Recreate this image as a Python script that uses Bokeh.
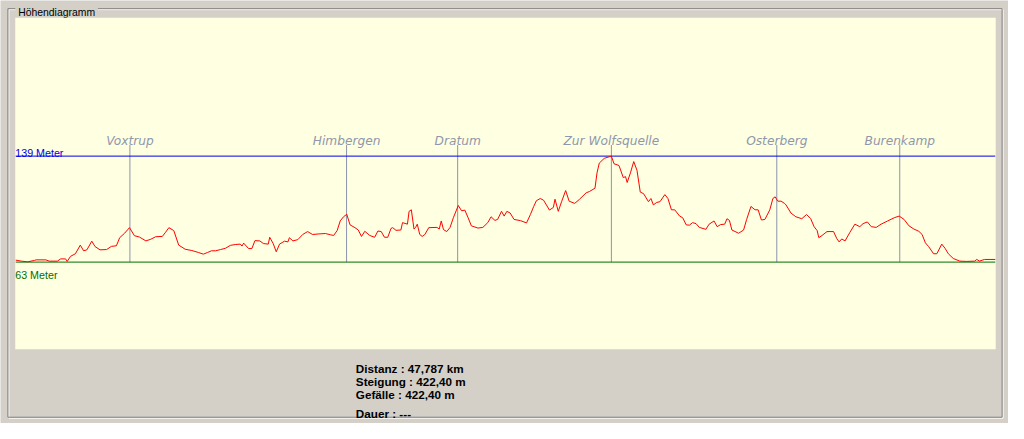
from bokeh.plotting import figure
from bokeh.models import Range1d
from bokeh.core.properties import value
from bokeh.embed import file_html
from bokeh.resources import INLINE

# ---------------- data ----------------
chart_title = "Höhendiagramm"

profile_km = [
    0, 0.27, 0.58, 0.91, 0.99, 1.47, 1.63, 2.03, 2.19, 2.43,
    2.51, 2.67, 2.91, 3.15, 3.31, 3.47, 3.71, 3.87, 4.11, 4.43,
    4.67, 4.91, 5.07, 5.31, 5.55, 5.79, 6.03, 6.35, 6.59, 6.83,
    7.15, 7.31, 7.47, 7.71, 7.95, 8.27, 8.59, 8.91, 9.15, 9.36,
    9.55, 9.75, 9.99, 10.23, 10.47, 10.71, 10.95, 11.04, 11.12, 11.36,
    11.52, 11.67, 11.91, 12.08, 12.32, 12.39, 12.56, 12.71, 12.87, 13.11,
    13.28, 13.35, 13.52, 13.76, 14.00, 14.24, 14.48, 14.79, 15.11, 15.35,
    15.51, 15.68, 15.83, 15.99, 16.15, 16.31, 16.55, 16.71, 16.87, 17.03,
    17.27, 17.51, 17.67, 17.83, 17.99, 18.15, 18.31, 18.39, 18.55, 18.79,
    18.87, 19.11, 19.19, 19.30, 19.43, 19.51, 19.59, 19.71, 19.83, 19.96,
    20.15, 20.55, 20.66, 20.76, 20.87, 21.03, 21.19, 21.35, 21.59, 21.75,
    21.91, 22.07, 22.23, 22.55, 22.79, 23.03, 23.19, 23.38, 23.51, 23.70,
    23.83, 23.96, 24.12, 24.31, 24.63, 24.92, 25.11, 25.27, 25.40, 25.59,
    25.75, 26.04, 26.23, 26.31, 26.47, 26.63, 26.83, 27.00, 27.27, 27.51,
    27.83, 27.99, 28.26, 28.36, 28.47, 28.71, 28.95, 29.06, 29.19, 29.43,
    29.64, 29.75, 29.83, 29.99, 30.15, 30.31, 30.47, 30.63, 30.87, 30.99,
    31.11, 31.27, 31.43, 31.67, 31.82, 31.99, 32.15, 32.39, 32.54, 32.71,
    32.87, 33.02, 33.19, 33.35, 33.67, 33.83, 34.07, 34.22, 34.39, 34.59,
    34.70, 34.82, 34.94, 35.27, 35.51, 35.66, 35.87, 36.07, 36.22, 36.38,
    36.55, 36.79, 36.94, 37.05, 37.18, 37.34, 37.51, 37.58, 37.82, 38.06,
    38.35, 38.58, 38.78, 38.95, 39.10, 39.18, 39.34, 39.58, 39.90, 40.06,
    40.17, 40.30, 40.46, 40.70, 40.94, 41.18, 41.34, 41.55, 41.74, 41.98,
    42.22, 42.54, 42.86, 43.10, 43.34, 43.58, 43.82, 44.06, 44.22, 44.38,
    44.54, 44.78, 44.94, 45.18, 45.34, 45.50, 45.74, 46.06, 46.38, 46.78,
    46.89, 47.02, 47.26, 47.79,
]

profile_m = [
    64.4, 63.7, 63.2, 64.2, 64.6, 64.6, 63.7, 63.7, 65.3, 65.3,
    63.5, 67.1, 69.0, 75.2, 71.1, 71.8, 78.0, 74.1, 71.8, 72.0,
    74.3, 74.7, 80.5, 83.7, 87.7, 81.9, 81.0, 78.2, 79.4, 81.2,
    81.4, 84.4, 87.7, 85.6, 75.2, 72.2, 71.3, 69.9, 68.7, 69.9,
    71.1, 71.1, 72.0, 72.9, 75.0, 75.6, 75.9, 74.5, 76.6, 72.7,
    72.7, 78.4, 78.2, 76.3, 75.9, 80.8, 76.3, 70.4, 75.9, 78.0,
    77.5, 80.5, 78.2, 79.1, 82.8, 84.9, 82.8, 83.2, 83.5, 82.6,
    82.1, 85.6, 92.5, 95.5, 97.3, 89.7, 87.7, 86.0, 81.4, 85.1,
    82.1, 80.8, 85.3, 84.9, 80.8, 80.8, 87.2, 87.7, 85.8, 86.0,
    91.3, 90.2, 99.4, 100.5, 86.7, 87.9, 90.2, 82.8, 81.4, 82.8,
    87.7, 87.9, 86.7, 92.5, 86.3, 84.9, 87.9, 94.8, 103.6, 99.8,
    100.3, 94.8, 89.0, 87.4, 87.9, 91.3, 95.5, 92.9, 93.6, 99.4,
    96.0, 99.4, 98.2, 93.6, 92.7, 91.1, 97.1, 102.9, 107.0, 108.6,
    107.4, 100.3, 102.2, 108.1, 99.4, 106.3, 114.3, 106.7, 105.1, 108.1,
    112.7, 113.6, 116.0, 127.0, 134.0, 137.4, 138.5, 139.0, 133.5, 132.3,
    123.6, 124.3, 120.1, 127.0, 135.1, 128.8, 113.2, 112.1, 106.3, 108.6,
    104.0, 105.8, 106.3, 111.4, 108.6, 100.5, 100.5, 96.0, 94.8, 89.7,
    89.5, 91.3, 90.6, 87.9, 86.5, 90.2, 92.5, 88.4, 89.9, 90.2,
    94.1, 92.9, 86.0, 83.7, 86.0, 93.6, 102.9, 100.5, 100.5, 93.2,
    93.6, 100.5, 108.6, 109.8, 106.7, 106.7, 105.1, 104.0, 98.2, 95.5,
    94.1, 97.1, 94.3, 88.4, 85.6, 80.5, 82.1, 84.9, 84.9, 79.8,
    77.5, 79.6, 78.2, 84.4, 90.2, 88.4, 90.6, 91.8, 88.4, 87.9,
    90.2, 92.5, 94.8, 96.0, 93.6, 89.0, 86.7, 85.1, 82.8, 76.8,
    74.1, 69.0, 69.0, 75.9, 72.9, 69.0, 65.6, 63.7, 63.5, 63.7,
    64.9, 63.7, 64.9, 64.9,
]

place_names = ["Voxtrup", "Himbergen", "Dratum", "Zur Wolfsquelle", "Osterberg", "Burenkamp"]
place_km = [5.57, 16.14, 21.56, 29.06, 37.13, 43.13]

elev_max = 139
elev_min = 63
total_km = 47.787
ascent_m = 422.40
descent_m = 422.40
duration = "---"

# ---------------- layout ----------------
# A "px" range describes the original 1024x439 window; Bokeh scales it onto the figure.
FIG_W, FIG_H = 1008, 423
REF_W, REF_H = 1024, 439
X0_PX, X1_PX = 15.5, 1010.5          # 0 km .. total km
YMAX_PX, YMIN_PX = 161.5, 271.5      # elev_max .. elev_min

kpp = total_km / (X1_PX - X0_PX)
mpp = (elev_max - elev_min) / (YMIN_PX - YMAX_PX)
x_rng = Range1d((0 - X0_PX) * kpp, (REF_W - X0_PX) * kpp)
y_rng = Range1d(elev_min - (REF_H - YMIN_PX) * mpp, elev_min + (YMIN_PX - 0) * mpp)

GRAY_BG = "#d4d0c8"
YELLOW = "#ffffe1"

p = figure(width=FIG_W, height=FIG_H, x_range=x_rng, y_range=y_rng,
           x_axis_type=None, y_axis_type=None, toolbar_location=None,
           output_backend="svg", min_border=0)
p.extra_x_ranges = {"px": Range1d(0, REF_W)}
p.extra_y_ranges = {"px": Range1d(REF_H, 0)}
p.background_fill_color = GRAY_BG
p.border_fill_color = GRAY_BG
p.outline_line_color = None

PX = dict(x_range_name="px", y_range_name="px")

# group box (etched)
gl, gt, gr, gb = 7.5, 8.5, 1017.5, 432.5
tgap0, tgap1 = 15, 99
for off, col in ((1, "#ffffff"), (0, "#808080")):
    p.segment(x0=[gl + off, tgap1, gl + off, gr + off, gl + off],
              y0=[gt + off, gt + off, gt + off, gt + off, gb + off],
              x1=[tgap0, gr + off, gl + off, gr + off, gr + off],
              y1=[gt + off, gt + off, gb + off, gb + off, gb + off],
              line_color=col, line_width=1, **PX)
p.text(x=[18], y=[12.5], text=[chart_title], text_font=value("Liberation Sans"),
       text_font_size="10.4px", text_color="#000000", text_baseline="alphabetic",
       text_align="left", **PX)

# yellow plot area
p.quad(left=[15], right=[1011], top=[18], bottom=[362], fill_color=YELLOW,
       line_color=None, **PX)

# place markers
n = len(place_km)
p.segment(x0=place_km, x1=place_km, y0=[150] * n, y1=[YMIN_PX] * n,
          line_color="#8c94ad", line_width=1, y_range_name="px")
p.text(x=place_km, y=[146] * n, text=place_names, text_font=value("DejaVu Sans"),
       text_font_size="12.2px", text_font_style="italic", text_color="#8e97ad",
       text_align="center", text_baseline="alphabetic", y_range_name="px")

# max / min lines
p.segment(x0=[0, 0], x1=[total_km, total_km], y0=[elev_max, elev_min],
          y1=[elev_max, elev_min], line_color=["#0000ee", "#007000"], line_width=1)
p.text(x=[15, 15], y=[158.5, 284.5],
       text=[f"{elev_max} Meter", f"{elev_min} Meter"],
       text_font=value("Liberation Sans"), text_font_size="10.7px",
       text_color=["#0000ee", "#007000"], text_baseline="alphabetic",
       text_align="left", **PX)

# profile
p.line(profile_km, profile_m, line_color="#ff0000", line_width=1)

# statistics
def de(v, d):
    return f"{v:.{d}f}".replace(".", ",")

stats = [
    f"Distanz : {de(total_km, 3)} km",
    f"Steigung : {de(ascent_m, 2)} m",
    f"Gefälle : {de(descent_m, 2)} m",
    f"Dauer : {duration}",
]
p.text(x=[361] * 4, y=[381.5, 395, 408.5, 428.5], text=stats,
       text_font=value("Liberation Sans"), text_font_size="11.7px",
       text_font_style="bold", text_color="#000000", text_baseline="alphabetic",
       text_align="left", **PX)

open("out.html", "w").write(file_html(p, INLINE))
